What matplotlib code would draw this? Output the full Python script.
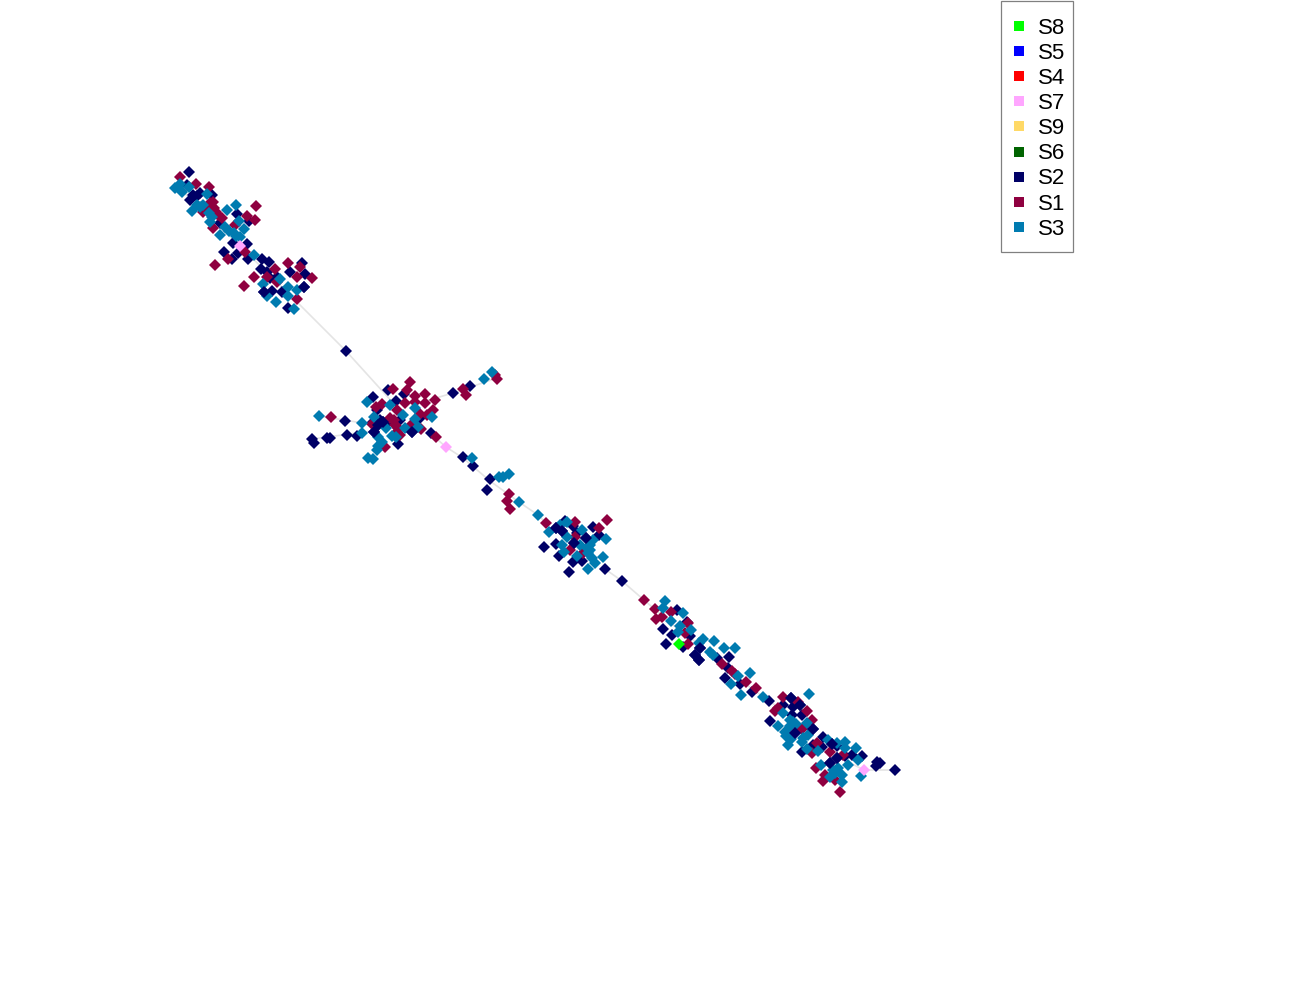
import matplotlib
matplotlib.use("Agg")
import matplotlib.pyplot as plt
from matplotlib.lines import Line2D
from matplotlib.patches import Rectangle

plt.rcParams['font.family'] = ['Liberation Sans', 'DejaVu Sans']

legend_order = ["S8", "S5", "S4", "S7", "S9", "S6", "S2", "S1", "S3"]
colors = {"S8": "#00FF00", "S5": "#0000FF", "S4": "#FF0000", "S7": "#FFA6FF",
          "S9": "#FFD966", "S6": "#006400", "S2": "#000066", "S1": "#8F0040", "S3": "#007BB0"}

s1_pts = [(180,177),(196,184),(209,187),(210,203),(213,202),(218,215),(222,218),(213,228),(256,206),(247,216),
          (255,220),(235,225),(215,265),(228,259),(288,263),(275,269),(254,277),(244,286),(300,267),(297,277),
          (312,278),(297,299),(267,277),(277,282),(203,212),(205,208),(245,252),(216,212),(214,208),(208,208),
          (410,382),(393,389),(407,390),(415,396),(425,394),(435,400),(425,403),(405,403),(415,402),(382,404),
          (376,407),(397,410),(433,410),(420,414),(427,415),(331,417),(390,418),(395,425),(397,432),(372,424),
          (412,424),(421,429),(436,437),(385,447),(463,389),(466,395),(497,379),(495,375),(400,435),(394,420),(398,428),
          (509,494),(507,501),(510,509),(546,523),(575,522),(607,520),(599,528),(570,550),(583,553),(575,537),
          (644,600),(655,609),(656,619),(662,617),(671,612),(688,623),(685,633),(688,644),(722,664),(732,671),
          (735,674),(746,682),(756,688),(783,697),
          (775,711),(778,708),(798,702),(807,711),(812,720),(802,729),(817,743),(812,753),(830,752),(843,755),
          (816,768),(825,775),(823,781),(835,780),(840,792)]
s2_pts = [(189,172),(187,185),(193,195),(200,193),(212,195),(190,200),(237,214),(249,221),(220,223),(233,243),
          (247,244),(224,252),(238,253),(232,259),(248,259),(262,259),(269,262),(261,269),(267,272),(302,263),
          (290,272),(305,274),(270,278),(304,287),(264,292),(272,291),(282,292),(288,308),(277,277),(197,196),
          (346,351),(453,393),(470,386),(388,390),(373,397),(404,394),(396,401),(377,410),(345,421),(312,439),
          (314,443),(327,438),(330,438),(347,435),(357,436),(374,432),(378,425),(383,422),(412,432),(398,444),
          (431,433),(400,420),(420,418),(463,457),(473,466),(490,479),(372,423),(380,420),(386,424),
          (487,490),(544,547),(556,528),(562,531),(565,521),(573,526),(577,533),(593,527),(599,535),(586,538),
          (574,543),(556,544),(559,556),(573,562),(582,561),(569,572),(605,569),(622,581),
          (677,610),(687,622),(663,629),(672,635),(666,644),(683,647),(700,648),(695,655),(699,660),(717,658),
          (729,657),(728,668),(725,678),(740,684),(752,692),(769,701),(690,636),
          (791,698),(800,705),(793,707),(783,705),(770,721),(792,715),(802,715),(795,733),(813,729),(802,752),
          (813,745),(823,737),(822,747),(832,744),(837,746),(852,755),(862,756),(837,758),(830,763),(877,762),
          (876,766),(895,770),(845,756),(880,763)]
s2_top_pts = [(795,733),(813,729),(832,744),(837,758),(830,763),(574,543),(586,538),(556,528),(562,531),
              (700,648),(695,655),(699,660),(383,422),(378,425),(374,432),(412,432),(304,287),(264,292),(791,698),(800,705)]
s3_pts = [(178,187),(182,192),(189,187),(207,194),(197,205),(200,207),(192,211),(236,205),(227,210),(209,213),
          (210,222),(239,221),(225,227),(244,229),(234,233),(220,235),(240,237),(254,255),(280,279),(263,284),
          (288,287),(297,290),(267,296),(288,296),(276,302),(294,309),(175,188),(180,184),(203,205),(212,217),(229,231),(236,236),
          (492,372),(484,379),(367,402),(390,405),(415,408),(374,417),(403,415),(432,417),(415,419),(319,416),
          (362,423),(386,428),(405,428),(418,427),(362,433),(378,437),(392,436),(396,437),(382,442),(378,446),
          (377,450),(368,458),(373,459),(472,458),(499,477),(503,477),(509,474),
          (519,502),(538,515),(549,532),(560,525),(567,522),(582,530),(567,537),(562,545),(564,552),(606,539),
          (580,545),(590,545),(593,540),(588,553),(577,556),(592,558),(595,563),(603,557),(588,569),(587,548),(590,550),
          (665,601),(663,608),(683,613),(671,621),(680,626),(678,632),(691,630),(703,639),(699,643),(714,641),
          (724,648),(735,648),(710,652),(713,655),(750,673),(738,676),(731,684),(741,695),(763,697),
          (809,694),(783,713),(793,722),(778,726),(785,732),(786,736),(791,739),(788,745),(803,738),(808,735),
          (802,742),(807,749),(818,751),(828,740),(845,742),(845,748),(856,748),(858,760),(848,765),(821,765),
          (833,770),(830,777),(842,775),(842,782),(861,776),(837,743),(807,723),(790,720),(796,724),(790,726),(838,768),(835,773)]
s7_pts = [(240,246),(446,447),(864,770)]
s8_pts = [(679,644)]

edge_paths = [
    [(178,187),(240,246),(300,305),(346,351),(395,405)],
    [(430,433),(446,447),(463,458),(490,481),(519,502),(538,515),(546,523)],
    [(605,569),(622,581),(644,600),(679,630),(700,645),(740,680),(769,701),(790,715)],
    [(815,745),(864,770),(895,770)],
    [(412,405),(453,393),(497,378)],
    [(312,439),(380,430)],
    [(319,416),(375,425)],
]

fig = plt.figure(figsize=(13, 10), dpi=100)
ax = fig.add_axes([0, 0, 1, 1])
ax.set_xlim(0, 1300)
ax.set_ylim(1000, 0)
ax.axis("off")

for path in edge_paths:
    ax.plot([p[0] for p in path], [p[1] for p in path], color="#e4e4e4", lw=1.2, zorder=1)

for name, pts, z in [("S2", s2_pts, 2), ("S1", s1_pts, 3), ("S3", s3_pts, 4), ("S2", s2_top_pts, 5),
                     ("S7", s7_pts, 6), ("S8", s8_pts, 7)]:
    ax.plot([p[0] for p in pts], [p[1] for p in pts], ls="", marker="D", ms=6.5, mew=0,
            color=colors[name], zorder=z)

ax.add_patch(Rectangle((1000.5, 0.5), 72.5, 251.5, fill=False, edgecolor="#808080", lw=0.9, zorder=8))
handles = [Line2D([], [], ls="", marker="s", ms=7.9, mew=0, color=colors[n], label=n) for n in legend_order]
leg = ax.legend(handles=handles, loc="upper left", bbox_to_anchor=(1010.5/1300, 1 - 17.5/1000),
                bbox_transform=ax.transAxes, fontsize=16, frameon=False,
                borderaxespad=0, borderpad=0, labelspacing=0.187, handlelength=0.77, handletextpad=0.47)

fig.savefig("out.png", dpi=100, facecolor="white")
